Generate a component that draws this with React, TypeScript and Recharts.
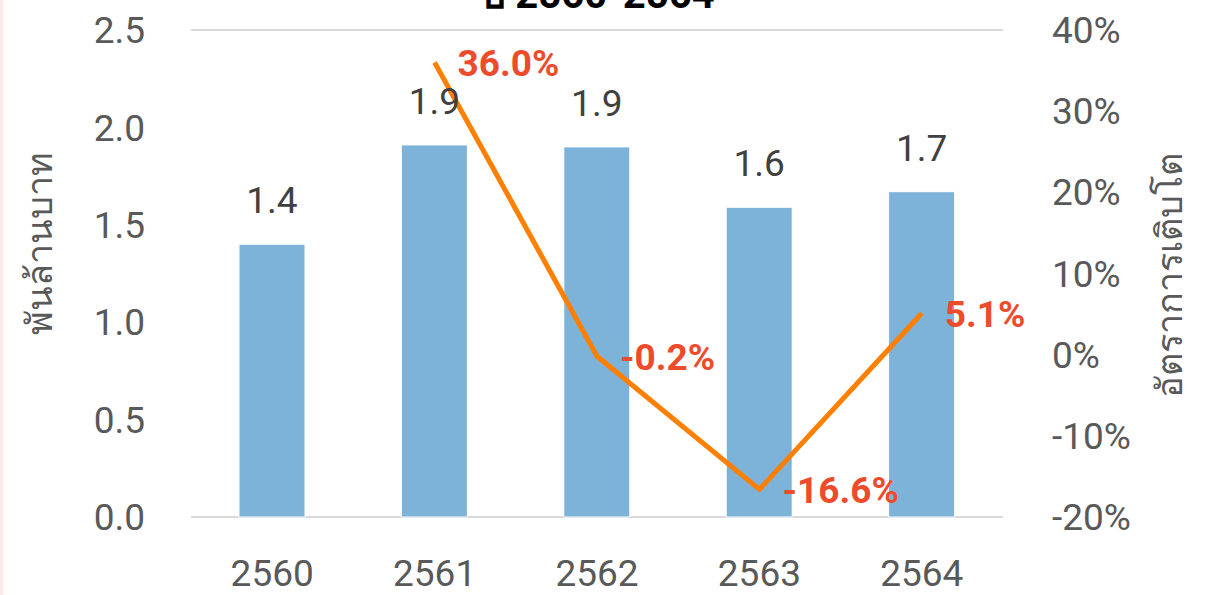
import {
  Bar,
  CartesianGrid,
  ComposedChart,
  LabelList,
  Line,
  XAxis,
  YAxis,
} from "recharts";

const years = ["2560", "2561", "2562", "2563", "2564"];
// พันล้านบาท
const value = [1.4, 1.91, 1.9, 1.59, 1.67];
// อัตราการเติบโต (%), no growth figure for the first year
const growth: (number | null)[] = [null, 36.0, -0.2, -16.6, 5.1];

const leftTicks = [0, 0.5, 1, 1.5, 2, 2.5];
const rightTicks = [-20, -10, 0, 10, 20, 30, 40];

const data = years.map((y, i) => ({ year: y, value: value[i], growth: growth[i] }));

const FONT = "Roboto, 'Noto Sans', sans-serif";
const GREY = "#595959";

function GrowthLabel(props: any) {
  const { x, y, value: v } = props;
  if (v == null) return null;
  return (
    <text
      x={x + 23}
      y={y}
      dy="0.36em"
      textAnchor="start"
      fill="#EE4B2B"
      fontWeight={700}
      fontSize={37}
      fontFamily={FONT}
    >
      {`${Number(v).toFixed(1)}%`}
    </text>
  );
}

// rotated axis title, centred on the given spot beside the plot
function AxisTitle({ viewBox, text, dx, dy }: any) {
  const cx = viewBox.x + dx;
  const cy = viewBox.y + viewBox.height / 2 + dy;
  return (
    <text
      x={cx}
      y={cy}
      transform={`rotate(-90 ${cx} ${cy})`}
      textAnchor="middle"
      dominantBaseline="central"
      fill={GREY}
      fontSize={36}
      fontFamily={FONT}
    >
      {text}
    </text>
  );
}

export default function App() {
  return (
    <div
      style={{
        position: "relative",
        width: 1207,
        height: 595,
        overflow: "hidden",
        background: "#fff",
        fontFamily: FONT,
      }}
    >
      <style>{"body{margin:0}"}</style>
      <div
        style={{
          position: "absolute",
          left: 0,
          top: 0,
          width: 3,
          height: 595,
          background: "#FDE9E9",
        }}
      />
      {/* chart title, cut off by the top edge as in the source image */}
      <div
        style={{
          position: "absolute",
          left: 0,
          width: 1195,
          top: -28,
          textAlign: "center",
          fontSize: 40,
          fontWeight: 700,
          lineHeight: "45px",
          color: "#000",
          whiteSpace: "nowrap",
        }}
      >
        ปี 2560-2564
      </div>
      <ComposedChart
        width={1207}
        height={595}
        data={data}
        margin={{ top: 30, right: 0, bottom: 0, left: 0 }}
      >
        <CartesianGrid vertical={false} stroke="#D9D9D9" strokeWidth={2} />
        <XAxis
          dataKey="year"
          axisLine={false}
          tickLine={false}
          tickSize={0}
          tickMargin={43}
          height={78}
          tick={{ fill: GREY, fontSize: 37, fontFamily: FONT }}
        />
        <YAxis
          yAxisId="left"
          orientation="left"
          width={191}
          domain={[0, 2.5]}
          ticks={leftTicks}
          axisLine={false}
          tickLine={false}
          tickSize={0}
          tickMargin={46}
          tickFormatter={(v: number) => v.toFixed(1)}
          tick={{ fill: GREY, fontSize: 37, fontFamily: FONT }}
          label={<AxisTitle text="พันล้านบาท" dx={40} dy={-30} />}
        />
        <YAxis
          yAxisId="right"
          orientation="right"
          width={204}
          domain={[-20, 40]}
          ticks={rightTicks}
          axisLine={false}
          tickLine={false}
          tickSize={0}
          tickMargin={49}
          tickFormatter={(v: number) => `${v}%`}
          tick={{ fill: GREY, fontSize: 37, fontFamily: FONT, textAnchor: "start" }}
          label={<AxisTitle text="อัตราการเติบโต" dx={167} dy={2} />}
        />
        <Bar
          yAxisId="left"
          dataKey="value"
          fill="#7DB3D9"
          stroke="#fff"
          strokeWidth={1}
          barSize={66}
          isAnimationActive={false}
        >
          <LabelList
            dataKey="value"
            position="top"
            offset={31}
            formatter={(v: any) => Number(v).toFixed(1)}
            fill="#404040"
            fontSize={37}
            fontFamily={FONT}
          />
        </Bar>
        <Line
          yAxisId="right"
          dataKey="growth"
          stroke="#FF7F00"
          strokeWidth={5}
          dot={false}
          activeDot={false}
          connectNulls={false}
          isAnimationActive={false}
        >
          <LabelList dataKey="growth" content={<GrowthLabel />} />
        </Line>
      </ComposedChart>
    </div>
  );
}
